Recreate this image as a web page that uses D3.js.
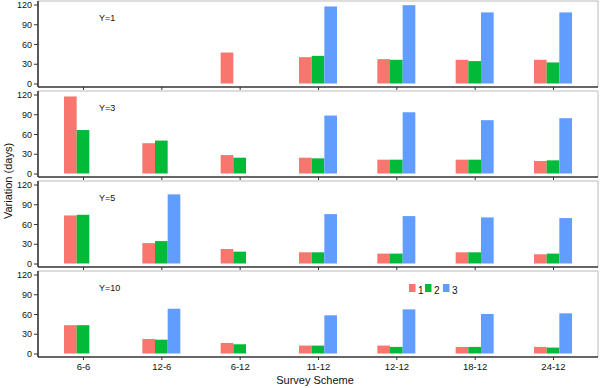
<!DOCTYPE html>
<html>
<head>
<meta charset="utf-8">
<script src="https://cdn.jsdelivr.net/npm/d3@7"></script>
<style>
  body { margin: 0; background: #fff; }
  text { font-family: Arial, "Liberation Sans", sans-serif; fill: #111; }
</style>
</head>
<body>
<div id="chart"></div>
<script>
// survey schemes on the x axis
const schemes = ["6-6", "12-6", "6-12", "11-12", "12-12", "18-12", "24-12"];
const seriesNames = ["1", "2", "3"];
const panelLabels = ["Y=1", "Y=3", "Y=5", "Y=10"];
const yTicks = [0, 30, 60, 90, 120];

// values per panel, one array per series (null = no bar)
const y1_s1 = [null, null, 47, 40, 37, 36, 36];
const y1_s2 = [null, null, null, 42, 36, 34, 32];
const y1_s3 = [null, null, null, 117, 119, 108, 108];

const y3_s1 = [117, 46, 28, 24, 21, 21, 19];
const y3_s2 = [66, 50, 24, 23, 21, 21, 20];
const y3_s3 = [null, null, null, 88, 93, 81, 84];

const y5_s1 = [73, 31, 22, 17, 15, 17, 14];
const y5_s2 = [74, 34, 18, 17, 15, 17, 15];
const y5_s3 = [null, 105, null, 75, 72, 70, 69];

const y10_s1 = [43, 22, 16, 12, 12, 10, 10];
const y10_s2 = [43, 21, 14, 12, 10, 10, 9];
const y10_s3 = [null, 68, null, 58, 67, 60, 61];

const panels = [
  [y1_s1, y1_s2, y1_s3],
  [y3_s1, y3_s2, y3_s3],
  [y5_s1, y5_s2, y5_s3],
  [y10_s1, y10_s2, y10_s3]
];

const colors = ["#F8766D", "#00BA38", "#619CFF"];

const width = 600, height = 388;
const left = 38, right = 598;
const panelH = 90;

const svg = d3.select("#chart").append("svg")
  .attr("width", width)
  .attr("height", height);

const x = d3.scalePoint()
  .domain(schemes)
  .range([83, 553]);

const xs = d3.scaleBand()
  .domain(seriesNames)
  .range([-19, 19])
  .padding(0);

panels.forEach((series, p) => {
  const top = 1 + p * panelH;

  const y = d3.scaleLinear()
    .domain([0, 120])
    .range([top + 82.5, top + 3.5]);

  // light frame on top and right
  svg.append("path")
    .attr("d", `M${left},${top}H${right}V${top + 86}`)
    .attr("fill", "none")
    .attr("stroke", "#bbb")
    .attr("stroke-width", 1);

  const g = svg.append("g");

  series.forEach((vals, s) => {
    g.selectAll(".bar" + s)
      .data(vals.map((v, i) => ({ v: v, c: schemes[i] })).filter(d => d.v != null))
      .enter().append("rect")
      .attr("x", d => x(d.c) + xs(seriesNames[s]))
      .attr("width", xs.bandwidth())
      .attr("y", d => y(d.v))
      .attr("height", d => y(0) - y(d.v))
      .attr("fill", colors[s]);
  });

  // y axis
  const yAxis = svg.append("g")
    .attr("transform", `translate(${left},0)`)
    .call(d3.axisLeft(y).tickValues(yTicks).tickSize(4).tickPadding(2));
  yAxis.select(".domain").remove();
  yAxis.selectAll("text").attr("font-size", "9px").attr("dy", "0.35em");
  yAxis.selectAll("line").attr("stroke", "#333");

  svg.append("line")
    .attr("x1", left).attr("x2", left)
    .attr("y1", top).attr("y2", top + 86)
    .attr("stroke", "#333").attr("stroke-width", 1.6);

  // x axis
  const xAxis = svg.append("g")
    .attr("transform", `translate(0,${top + 86})`)
    .call(d3.axisBottom(x).tickSize(3).tickPadding(3));
  xAxis.select(".domain").remove();
  xAxis.selectAll("line").attr("stroke", "#333");
  if (p < panels.length - 1) xAxis.selectAll("text").remove();
  else xAxis.selectAll("text").attr("font-size", "9.5px");

  svg.append("line")
    .attr("x1", left).attr("x2", right)
    .attr("y1", top + 86).attr("y2", top + 86)
    .attr("stroke", "#333").attr("stroke-width", 1.6);

  svg.append("text")
    .attr("x", 99)
    .attr("y", top + 20)
    .attr("font-size", "9px")
    .text(panelLabels[p]);
});

// legend (inside bottom panel)
const legend = svg.append("g");
const legendX = [409, 425, 443];
seriesNames.forEach((n, i) => {
  legend.append("rect")
    .attr("x", legendX[i]).attr("y", 284)
    .attr("width", 6.5).attr("height", 8)
    .attr("fill", colors[i]);
  legend.append("text")
    .attr("x", legendX[i] + 9).attr("y", 294)
    .attr("font-size", "10px")
    .text(n);
});

// axis titles
svg.append("text")
  .attr("x", 315)
  .attr("y", 384)
  .attr("text-anchor", "middle")
  .attr("font-size", "11px")
  .text("Survey Scheme");

svg.append("text")
  .attr("transform", "translate(12,181) rotate(-90)")
  .attr("text-anchor", "middle")
  .attr("font-size", "11px")
  .text("Variation (days)");
</script>
</body>
</html>
